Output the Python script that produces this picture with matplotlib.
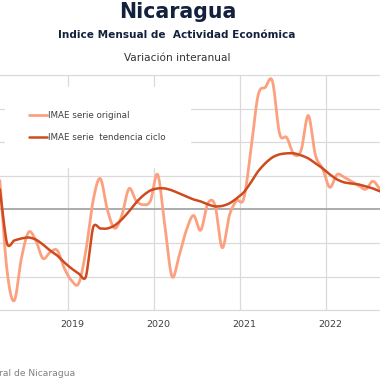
import numpy as np
import pandas as pd
import matplotlib
matplotlib.use("Agg")
import matplotlib.pyplot as plt

# ---------------- data (Mar 2018 .. Aug 2022, monthly, % y/y) ----------------
start_month = "2018-03"
end_month = "2022-08"
years = [2019, 2020, 2021, 2022]
year_labels = ["2019", "2020", "2021", "2022"]

serie_original = [
    4.3, -9.1, -13.6, -7.3, -3.4, -4.6, -7.3, -6.4, -6.1, -8.8,
    -10.6, -11.0, -6.1, 1.3, 4.6, -0.1, -2.8, -0.9, 3.1, 1.3,
    0.7, 1.3, 5.2, -2.4, -10.0, -6.9, -3.1, -0.9, -3.1, 0.9,
    0.6, -5.7, -0.9, 1.3, 1.6, 8.8, 17.0, 18.2, 19.1, 11.3,
    10.7, 8.2, 8.8, 14.0, 8.1, 6.1, 3.3, 5.2, 4.8, 4.2,
    3.6, 3.0, 4.2, 3.0,
]
serie_tendencia = [
    2.99, -5.07, -4.63, -4.33, -4.18, -4.48, -5.22, -6.12, -6.87, -7.91,
    -8.81, -9.55, -10.0, -2.69, -2.84, -2.84, -2.39, -1.49, -0.30, 1.04,
    2.09, 2.84, 3.13, 3.13, 2.84, 2.39, 1.94, 1.49, 1.19, 0.75,
    0.45, 0.52, 0.90, 1.64, 2.54, 4.03, 5.67, 6.87, 7.76, 8.21,
    8.36, 8.36, 8.06, 7.61, 6.87, 6.12, 5.22, 4.48, 4.03, 3.88,
    3.73, 3.43, 3.13, 2.69,
]
y_grid = [-15, -10, -5, 0, 5, 10, 15, 20]

title = "Nicaragua"
subtitle = "Indice Mensual de  Actividad Económica"
subtitle2 = "Variación interanual"
legend_labels = ["IMAE serie original", "IMAE serie  tendencia ciclo"]
source = "Fuente: Banco Central de Nicaragua"

# ---------------- helpers ----------------
months = pd.date_range(start_month, end_month, freq="MS")
t = np.array([(d.year - 2019) * 12 + (d.month - 1) + 0.5 for d in months])


def catmull_rom(x, y, n=16, tension=0.0):
    x = np.asarray(x, float)
    y = np.asarray(y, float)
    px = np.concatenate([[2 * x[0] - x[1]], x, [2 * x[-1] - x[-2]]])
    py = np.concatenate([[2 * y[0] - y[1]], y, [2 * y[-1] - y[-2]]])
    s = np.linspace(0, 1, n, endpoint=False)
    xs, ys = [], []
    k = (1 - tension) / 2.0
    for i in range(1, len(px) - 2):
        for P, out in ((px, xs), (py, ys)):
            p0, p1, p2, p3 = P[i - 1], P[i], P[i + 1], P[i + 2]
            m1 = k * (p2 - p0)
            m2 = k * (p3 - p1)
            h00 = 2 * s**3 - 3 * s**2 + 1
            h10 = s**3 - 2 * s**2 + s
            h01 = -2 * s**3 + 3 * s**2
            h11 = s**3 - s**2
            out.append(h00 * p1 + h10 * m1 + h01 * p2 + h11 * m2)
    xs = np.concatenate(xs + [[x[-1]]])
    ys = np.concatenate(ys + [[y[-1]]])
    return xs, ys


# ---------------- figure ----------------
fig = plt.figure(figsize=(3.8, 3.8), dpi=100)
ax = fig.add_axes([0.0, 0.184, 1.0, 0.618])
ax.set_xlim(-9.48, 43.5)
ax.set_ylim(y_grid[0], y_grid[-1])

for v in y_grid:
    if v == 0:
        ax.axhline(v, color="#A6A6A6", lw=1.3, zorder=1)
    else:
        ax.axhline(v, color="#DADADA", lw=0.9, zorder=0, clip_on=False)
for yr in years:
    ax.axvline((yr - 2019) * 12, color="#DADADA", lw=0.9, zorder=0)

xo, yo = catmull_rom(t, serie_original)
ax.plot(xo, yo, color="#FCA17F", lw=2.0, solid_capstyle="round", zorder=3,
        label=legend_labels[0])
xt, yt = catmull_rom(t, serie_tendencia, tension=0.2)
ax.plot(xt, yt, color="#CF4A1C", lw=1.8, solid_capstyle="round", zorder=4,
        label=legend_labels[1])

for s in ax.spines.values():
    s.set_visible(False)
ax.set_yticks([])
ax.set_xticks([(yr - 2019) * 12 + 0.55 for yr in years])
ax.set_xticklabels(year_labels, fontsize=6.8, color="#404040")
ax.tick_params(axis="x", length=0, pad=7)

leg = ax.legend(loc="upper left", bbox_to_anchor=(0.013, 0.95),
                fontsize=6.3, frameon=True, fancybox=False,
                handlelength=2.05, handletextpad=0.1, labelspacing=1.45,
                borderpad=2.8, borderaxespad=0.0)
leg.get_frame().set_facecolor("white")
leg.get_frame().set_edgecolor("white")
leg.get_frame().set_alpha(1.0)
for txt in leg.get_texts():
    txt.set_color("#404040")

fig.text(0.467, 0.9526, title, ha="center", va="baseline",
         fontsize=14.8, fontweight="bold", color="#14213D")
fig.text(0.466, 0.900, subtitle, ha="center", va="baseline",
         fontsize=7.6, fontweight="bold", color="#14213D")
fig.text(0.466, 0.8395, subtitle2, ha="center", va="baseline",
         fontsize=7.6, color="#333333")
fig.text(0.197, 0.0105, source, ha="right", va="baseline",
         fontsize=6.6, color="#808080")

fig.savefig("out.png", dpi=100)
